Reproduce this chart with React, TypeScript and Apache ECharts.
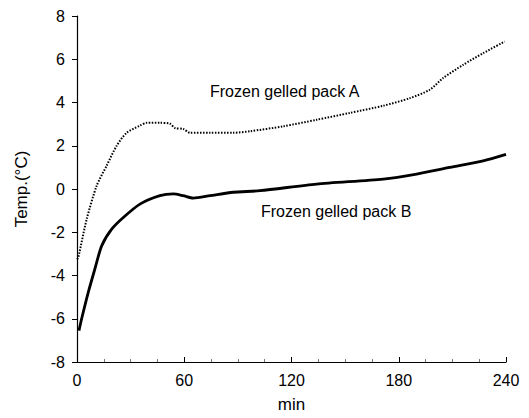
import React, { useEffect, useRef } from "react";
import * as echarts from "echarts";

const xTicks = [0, 60, 120, 180, 240];
const yTicks = [-8, -6, -4, -2, 0, 2, 4, 6, 8];

const packATime = [0, 0.7, 5.4, 11, 16.6, 22.2, 27.8, 35.2, 39, 46.4, 52, 54.8, 59.4, 63.2, 74.4, 87.4, 96.7, 115.4, 134, 152.7, 171.3, 186.2, 197.4, 204.8, 216, 227.2, 239.3];
const packAValue = [-3.25, -3.17, -1.4, 0.15, 1.08, 2.0, 2.6, 2.93, 3.06, 3.06, 3.02, 2.82, 2.78, 2.6, 2.6, 2.6, 2.67, 2.9, 3.2, 3.52, 3.85, 4.2, 4.59, 5.13, 5.74, 6.28, 6.82];

const packBTime = [1.1, 2.6, 6.3, 10, 13.8, 19.4, 25.9, 35.2, 46.4, 53.9, 59.4, 65, 74.4, 87.4, 102.3, 134, 171.3, 190, 208.6, 227.2, 240];
const packBValue = [-6.55, -6.0, -4.78, -3.7, -2.63, -1.86, -1.32, -0.7, -0.31, -0.23, -0.31, -0.42, -0.31, -0.15, -0.08, 0.23, 0.46, 0.69, 1.0, 1.3, 1.6];

const labelA = "Frozen gelled pack A";
const labelB = "Frozen gelled pack B";

export default function App() {
  const ref = useRef<HTMLDivElement>(null);
  useEffect(() => {
    if (!ref.current) return;
    const chart = echarts.init(ref.current, null, { renderer: "svg" });
    const font = "Liberation Sans, Arial, sans-serif";
    chart.setOption({
      animation: false,
      backgroundColor: "#fff",
      grid: { left: 77, right: 23, top: 16, bottom: 55 },
      xAxis: {
        type: "value",
        min: xTicks[0],
        max: xTicks[xTicks.length - 1],
        interval: 60,
        name: "min",
        nameLocation: "middle",
        nameGap: 34,
        nameTextStyle: { color: "#000", fontSize: 17, fontFamily: font },
        axisLine: { show: true, onZero: false, lineStyle: { color: "#000", width: 1.2 } },
        axisTick: { show: true, inside: true, length: 5, lineStyle: { color: "#000" } },
        minorTick: { show: true, splitNumber: 4, length: 3, lineStyle: { color: "#777" } },
        axisLabel: { color: "#000", fontSize: 16, fontFamily: font, margin: 10 },
        splitLine: { show: false },
      },
      yAxis: {
        type: "value",
        min: yTicks[0],
        max: yTicks[yTicks.length - 1],
        interval: 2,
        name: "Temp.(°C)",
        nameLocation: "middle",
        nameGap: 47,
        nameTextStyle: { color: "#000", fontSize: 17, fontFamily: font },
        axisLine: { show: true, onZero: false, lineStyle: { color: "#000", width: 1.2 } },
        axisTick: { show: true, inside: false, length: 5, lineStyle: { color: "#000" } },
        axisLabel: { color: "#000", fontSize: 16, fontFamily: font, margin: 12 },
        splitLine: { show: false },
      },
      series: [
        {
          name: labelA,
          type: "line",
          data: packATime.map((t, i) => [t, packAValue[i]]),
          showSymbol: false,
          smooth: 0.25,
          lineStyle: { color: "#000", width: 2, type: [1.5, 1.5] },
        },
        {
          name: labelB,
          type: "line",
          data: packBTime.map((t, i) => [t, packBValue[i]]),
          showSymbol: false,
          smooth: 0.25,
          lineStyle: { color: "#000", width: 2.8 },
        },
      ],
      graphic: [
        {
          type: "text",
          left: 210,
          top: 83,
          style: { text: labelA, fill: "#000", fontSize: 16, fontFamily: font },
        },
        {
          type: "text",
          left: 261,
          top: 203,
          style: { text: labelB, fill: "#000", fontSize: 16, fontFamily: font },
        },
      ],
    });
    return () => chart.dispose();
  }, []);
  return <div ref={ref} style={{ width: 529, height: 418, position: "absolute", left: 0, top: 0 }} />;
}
